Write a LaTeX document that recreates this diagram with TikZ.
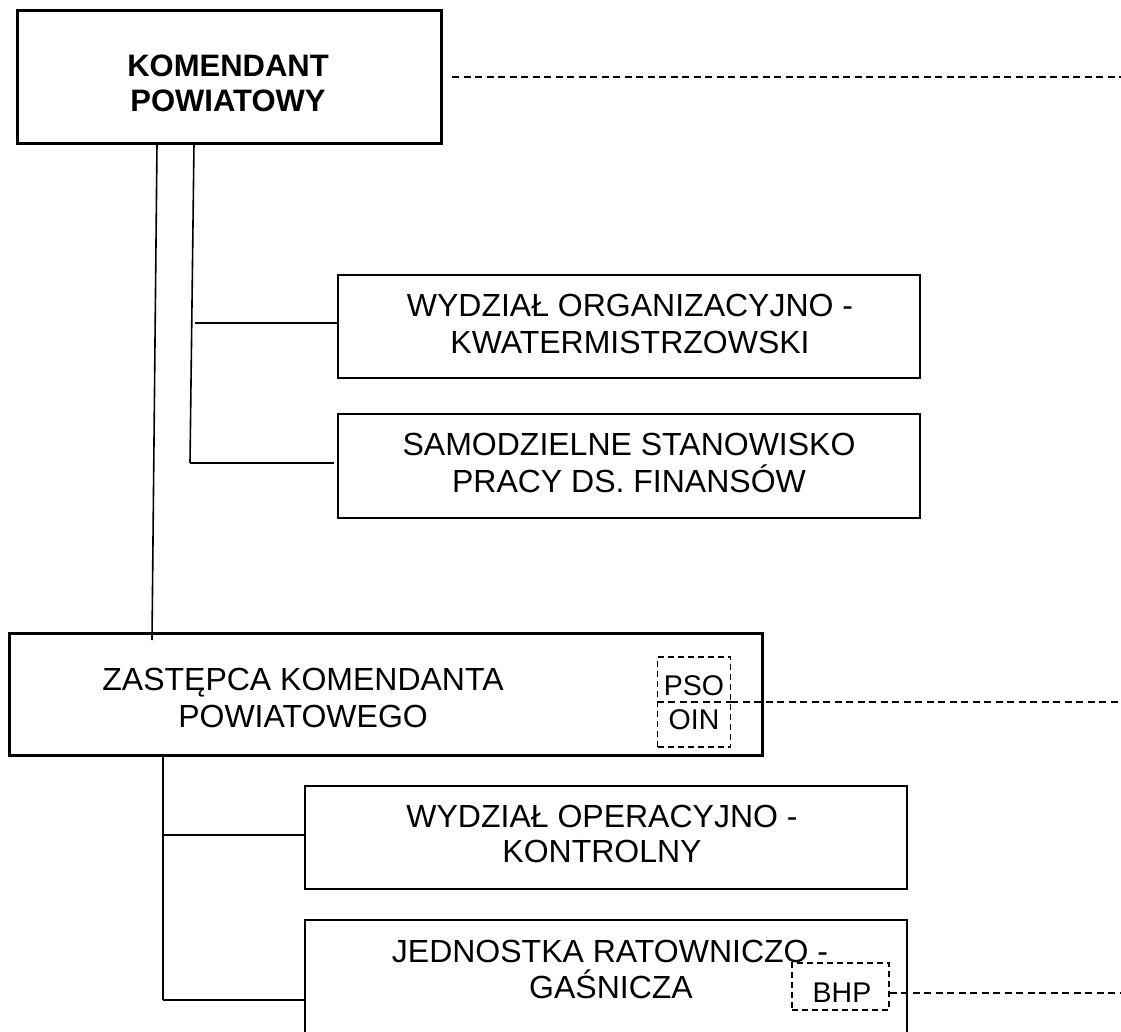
\documentclass[tikz,border=0pt]{standalone}
\usepackage{fontspec}
\setmainfont{Liberation Sans}
\begin{document}
\begin{tikzpicture}[x=1pt,y=-1pt,
  thickbox/.style={draw,line width=3pt,inner sep=0pt},
  thinbox/.style={draw,line width=1.6pt,inner sep=0pt},
  dashbox/.style={draw,line width=1.7pt,dash pattern=on 6pt off 4pt,inner sep=0pt},
  conn/.style={line width=1.6pt},
  dconn/.style={line width=1.6pt,dash pattern=on 7pt off 4.5pt},
  lbl/.style={anchor=base,font=\fontsize{32}{36}\selectfont,inner sep=0pt},
  blbl/.style={anchor=base,font=\fontsize{31}{35}\selectfont\bfseries,inner sep=0pt},
  small/.style={anchor=base,font=\fontsize{28.5}{32}\selectfont,inner sep=0pt}]
\useasboundingbox (0,0) rectangle (1121,1032);
\clip (0,0) rectangle (1121,1032);
% top box
\node[thickbox,minimum width=424pt,minimum height=133pt] (kp) at (229,77.5) {};
\node[blbl] (kpt1) at (228,77) {KOMENDANT};
\node[blbl] (kpt2) at (228,112) {POWIATOWY};
\coordinate (kpd) at (1121,77);
\draw[dconn] (452,77) -- (kpd);
% lines from top box
\coordinate (a1) at (157,144);
\coordinate (a2) at (152,640);
\coordinate (b1) at (194,144);
\coordinate (b2) at (190,463);
\coordinate (b3) at (195,323);
\draw[conn] (a1) -- (a2);
\draw[conn] (b1) -- (b2);
% WYDZIAL ORG
\node[thinbox,minimum width=582pt,minimum height=103pt] (wo) at (629,326.5) {};
\node[lbl] (wot1) at (630,316) {WYDZIAŁ ORGANIZACYJNO -};
\node[lbl] (wot2) at (630,353) {KWATERMISTRZOWSKI};
\draw[conn] (b3) -- (b3 -| wo.west);
% SAMODZIELNE
\node[thinbox,minimum width=582pt,minimum height=104pt] (ss) at (629,466) {};
\node[lbl] (sst1) at (629,455) {SAMODZIELNE STANOWISKO};
\node[lbl] (sst2) at (629,492) {PRACY DS. FINANSÓW};
\draw[conn] (b2) -- (334,463);
% ZASTEPCA
\node[thickbox,minimum width=753pt,minimum height=122pt] (zk) at (385.5,694) {};
\node[lbl] (zkt1) at (303,690) {ZASTĘPCA KOMENDANTA};
\node[lbl] (zkt2) at (303,727) {POWIATOWEGO};
\node[dashbox,minimum width=73pt,minimum height=90pt] (po) at (694,702) {};
\draw[dconn] (po.west |- 0,702) coordinate (pom) -- (po.east |- 0,702) coordinate (pomr);
\node[small] (pso) at (694,695) {PSO};
\node[small] (oin) at (694,729) {OIN};
\coordinate (zd) at (1121,702);
\draw[dconn] (pomr) -- (zd);
% lines from Zastepca
\coordinate (c1) at (163,755);
\coordinate (c2) at (163,1000);
\coordinate (c3) at (163,835);
\draw[conn] (c1) -- (c2);
% WYDZIAL OPERACYJNO
\node[thinbox,minimum width=602pt,minimum height=103pt] (wk) at (606,837.5) {};
\node[lbl] (wkt1) at (602,827) {WYDZIAŁ OPERACYJNO -};
\node[lbl] (wkt2) at (602,862) {KONTROLNY};
\draw[conn] (c3) -- (c3 -| wk.west);
% JEDNOSTKA
\node[thinbox,minimum width=602pt,minimum height=200pt] (jr) at (606,1020) {};
\node[lbl] (jrt1) at (610,962) {JEDNOSTKA RATOWNICZO -};
\node[lbl] (jrt2) at (611,998) {GAŚNICZA};
\draw[conn] (c2) -- (c2 -| jr.west);
\node[dashbox,minimum width=97pt,minimum height=47pt] (bhp) at (840.5,986.5) {};
\node[small] (bhpt) at (842,1002) {BHP};
\coordinate (bd) at (1121,993);
\draw[dconn] (bhp.east |- bd) -- (bd);
\end{tikzpicture}
\end{document}
